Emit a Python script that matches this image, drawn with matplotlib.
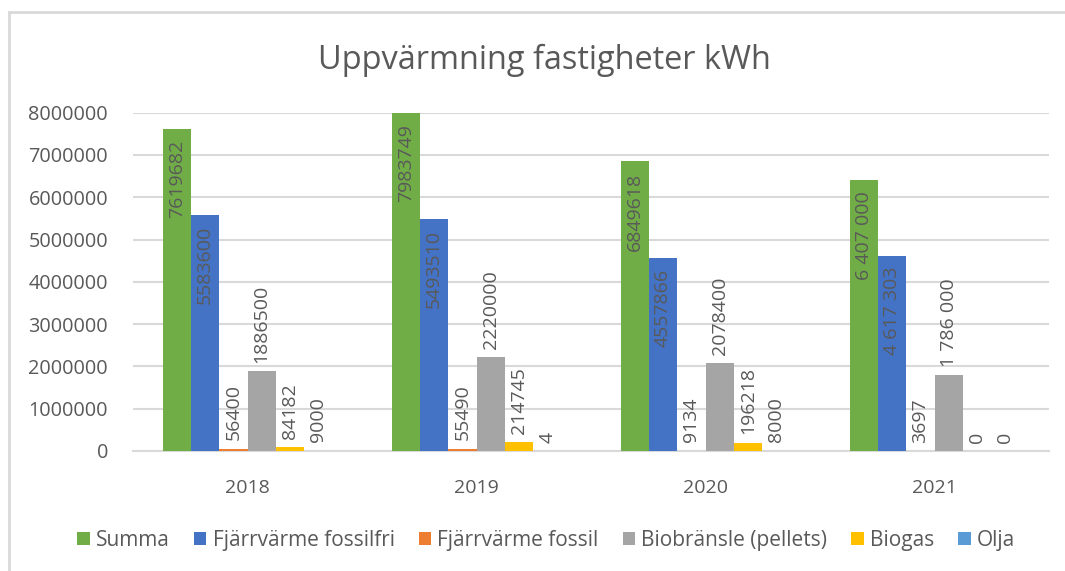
import numpy as np
import matplotlib.pyplot as plt
from matplotlib.lines import Line2D

# Data
years = ["2018", "2019", "2020", "2021"]
series = ["Summa", "Fjärrvärme fossilfri", "Fjärrvärme fossil",
          "Biobränsle (pellets)", "Biogas", "Olja"]
summa = [7619682, 7983749, 6849618, 6407000]
fossilfri = [5583600, 5493510, 4557866, 4617303]
fossil = [56400, 55490, 9134, 3697]
pellets = [1886500, 2220000, 2078400, 1786000]
biogas = [84182, 214745, 196218, 0]
olja = [9000, 4, 8000, 0]

# labels as shown (2021 uses space separators)
summa_lbl = ["7619682", "7983749", "6849618", "6 407 000"]
fossilfri_lbl = ["5583600", "5493510", "4557866", "4 617 303"]
fossil_lbl = ["56400", "55490", "9134", "3697"]
pellets_lbl = ["1886500", "2220000", "2078400", "1 786 000"]
biogas_lbl = ["84182", "214745", "196218", "0"]
olja_lbl = ["9000", "4", "8000", "0"]

colors = ["#70AD47", "#4472C4", "#ED7D31", "#A5A5A5", "#FFC000", "#5B9BD5"]
values = [summa, fossilfri, fossil, pellets, biogas, olja]
labels = [summa_lbl, fossilfri_lbl, fossil_lbl, pellets_lbl, biogas_lbl, olja_lbl]
inside = [True, True, False, False, False, False]

plt.rcParams['font.family'] = ['Open Sans', 'DejaVu Sans']
txt = "#595959"
grid_c = "#D9D9D9"

fig = plt.figure(figsize=(10.65, 5.71), dpi=100)
ax = fig.add_axes([133 / 1065, 1 - 451 / 571, 916 / 1065, (451 - 112.7) / 571])

w = 0.1237
x = np.arange(len(years)) + 0.5
for k, (vals, lbls) in enumerate(zip(values, labels)):
    xs = x + (k - 2.5) * w
    ax.bar(xs, vals, width=w, color=colors[k], label=series[k], zorder=3)
    for xi, v, s in zip(xs, vals, lbls):
        if inside[k]:
            ax.annotate(s, (xi, v), xytext=(0, -8), textcoords="offset points",
                        rotation=90, ha="center", va="top", fontsize=14, color=txt, zorder=4)
        else:
            ax.annotate(s, (xi, v), xytext=(0, 6), textcoords="offset points",
                        rotation=90, ha="center", va="bottom", fontsize=14, color=txt, zorder=4)

ax.set_xlim(0, 4)
ax.set_ylim(0, 8000000)
ax.set_yticks(np.arange(0, 8000001, 1000000))
ax.set_yticklabels([str(int(t)) for t in np.arange(0, 8000001, 1000000)])
ax.set_xticks(x)
ax.set_xticklabels(years)
ax.tick_params(axis="y", length=0, pad=18, labelsize=14.3, labelcolor=txt)
ax.tick_params(axis="x", length=0, pad=20, labelsize=14, labelcolor=txt)
ax.grid(axis="y", color=grid_c, linewidth=1.5, zorder=0)
for sp in ["top", "right", "left"]:
    ax.spines[sp].set_visible(False)
ax.spines["bottom"].set_color(grid_c)
ax.spines["bottom"].set_linewidth(1.5)

fig.text(0.511, 0.895, "Uppvärmning fastigheter kWh", ha="center", va="center",
         fontsize=23.4, color=txt)

handles, lab = ax.get_legend_handles_labels()
leg = fig.legend(handles, lab, loc="center", bbox_to_anchor=(0.513, 0.054), ncol=6,
                 frameon=False, fontsize=15, handlelength=0.6, handleheight=0.6,
                 handletextpad=0.3, columnspacing=1.15, labelcolor=txt)

# chart border (left and top visible)
fig.add_artist(Line2D([9 / 1065, 9 / 1065], [0, 1 - 12 / 571], color=grid_c, lw=2,
                      transform=fig.transFigure))
fig.add_artist(Line2D([9 / 1065, 1], [1 - 12 / 571, 1 - 12 / 571], color=grid_c, lw=2,
                      transform=fig.transFigure))

fig.savefig("out.png", dpi=100)
